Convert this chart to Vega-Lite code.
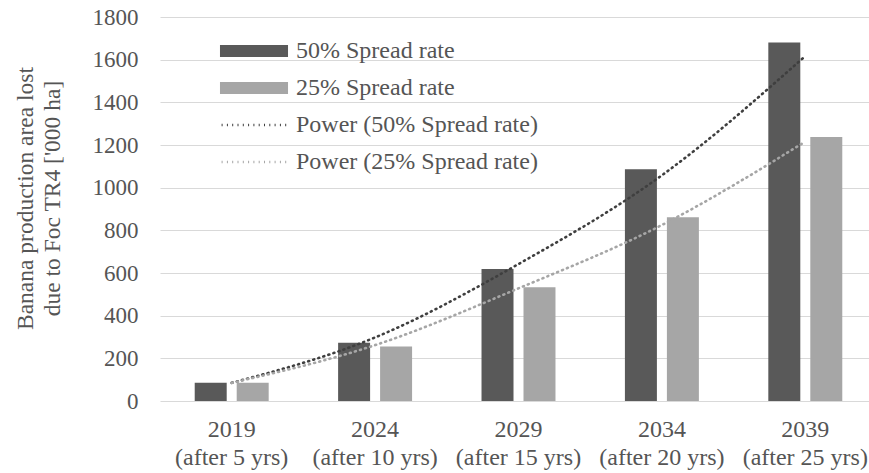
{
  "$schema": "https://vega.github.io/schema/vega-lite/v6.json",
  "autosize": {"type": "none"},
  "padding": {"left": 160, "top": 17, "right": 0, "bottom": 72},
  "width": 717,
  "height": 384,
  "config": {
    "font": "'Liberation Serif', 'Times New Roman', serif",
    "view": {"stroke": null},
    "axis": {"labelFont": "'Liberation Serif', 'Times New Roman', serif", "titleFont": "'Liberation Serif', 'Times New Roman', serif", "labelColor": "#555555", "titleColor": "#555555"},
    "legend": {"labelFont": "'Liberation Serif', 'Times New Roman', serif", "labelColor": "#555555"}
  },
  "datasets": {
    "bars": [
      {"cat": "2019 (after 5 yrs)", "series": "50% Spread rate", "value": 86},
      {"cat": "2019 (after 5 yrs)", "series": "25% Spread rate", "value": 86},
      {"cat": "2024 (after 10 yrs)", "series": "50% Spread rate", "value": 273},
      {"cat": "2024 (after 10 yrs)", "series": "25% Spread rate", "value": 255},
      {"cat": "2029 (after 15 yrs)", "series": "50% Spread rate", "value": 619},
      {"cat": "2029 (after 15 yrs)", "series": "25% Spread rate", "value": 533},
      {"cat": "2034 (after 20 yrs)", "series": "50% Spread rate", "value": 1086},
      {"cat": "2034 (after 20 yrs)", "series": "25% Spread rate", "value": 861},
      {"cat": "2039 (after 25 yrs)", "series": "50% Spread rate", "value": 1681},
      {"cat": "2039 (after 25 yrs)", "series": "25% Spread rate", "value": 1238}
    ],
    "trends": [
      {"cat": "2019 (after 5 yrs)", "trend": "Power (50% Spread rate)", "value": 85},
      {"cat": "2024 (after 10 yrs)", "trend": "Power (50% Spread rate)", "value": 298},
      {"cat": "2029 (after 15 yrs)", "trend": "Power (50% Spread rate)", "value": 642},
      {"cat": "2034 (after 20 yrs)", "trend": "Power (50% Spread rate)", "value": 1058},
      {"cat": "2039 (after 25 yrs)", "trend": "Power (50% Spread rate)", "value": 1617},
      {"cat": "2019 (after 5 yrs)", "trend": "Power (25% Spread rate)", "value": 85},
      {"cat": "2024 (after 10 yrs)", "trend": "Power (25% Spread rate)", "value": 262},
      {"cat": "2029 (after 15 yrs)", "trend": "Power (25% Spread rate)", "value": 528},
      {"cat": "2034 (after 20 yrs)", "trend": "Power (25% Spread rate)", "value": 825},
      {"cat": "2039 (after 25 yrs)", "trend": "Power (25% Spread rate)", "value": 1216}
    ]
  },
  "encoding": {
    "x": {
      "field": "cat", "type": "nominal", "sort": null,
      "scale": {"paddingInner": 0, "paddingOuter": 0},
      "axis": {
        "title": null, "labelAngle": 0, "domain": false, "ticks": false,
        "labelFontSize": 24, "labelPadding": 16, "labelLineHeight": 28, "labelBaseline": "top",
        "labelExpr": "[slice(datum.label, 0, 4), slice(datum.label, 5)]"
      }
    },
    "y": {
      "field": "value", "type": "quantitative",
      "scale": {"domain": [0, 1800]},
      "axis": {
        "values": [0, 200, 400, 600, 800, 1000, 1200, 1400, 1600, 1800],
        "format": "d",
        "title": ["Banana  production area lost", "due to Foc TR4 ['000 ha]"],
        "titleFontSize": 23.5, "titleFontWeight": "normal", "titleLineHeight": 27,
        "titlePadding": 28, "titleY": 181,
        "labelFontSize": 23, "labelPadding": 22, "ticks": false, "domain": false,
        "gridColor": "#d9d9d9", "gridWidth": 1.2
      }
    }
  },
  "layer": [
    {
      "data": {"name": "bars"},
      "mark": {"type": "bar"},
      "encoding": {
        "xOffset": {
          "field": "series", "type": "nominal",
          "sort": ["50% Spread rate", "25% Spread rate"],
          "scale": {"paddingInner": 0.238, "paddingOuter": 0.827}
        },
        "fill": {
          "field": "series", "type": "nominal",
          "sort": ["50% Spread rate", "25% Spread rate"],
          "scale": {"domain": ["50% Spread rate", "25% Spread rate"], "range": ["#595959", "#a6a6a6"]},
          "legend": {
            "title": null, "orient": "none", "legendX": 82, "legendY": 22, "padding": 0,
            "symbolType": "M-5.67,-1H5.67V1H-5.67Z", "symbolSize": 144,
            "symbolStrokeWidth": 0, "symbolOpacity": 1,
            "labelFontSize": 24, "labelOffset": 30, "rowPadding": 13, "labelLimit": 400
          }
        }
      }
    },
    {
      "data": {"name": "trends"},
      "mark": {"type": "line", "interpolate": "monotone", "strokeWidth": 2.6, "strokeDash": [1, 4.3], "strokeCap": "round"},
      "encoding": {
        "stroke": {
          "field": "trend", "type": "nominal",
          "sort": ["Power (50% Spread rate)", "Power (25% Spread rate)"],
          "scale": {"domain": ["Power (50% Spread rate)", "Power (25% Spread rate)"], "range": ["#3f3f3f", "#a6a6a6"]},
          "legend": {
            "title": null, "orient": "none", "legendX": 82, "legendY": 96, "padding": 0,
            "symbolType": "M-5.4,0H5.4", "symbolSize": 144, "symbolStrokeWidth": 2.6,
            "symbolDash": [1, 4.3],
            "labelFontSize": 24, "labelOffset": 30, "rowPadding": 13, "labelLimit": 400
          }
        }
      }
    }
  ]
}
